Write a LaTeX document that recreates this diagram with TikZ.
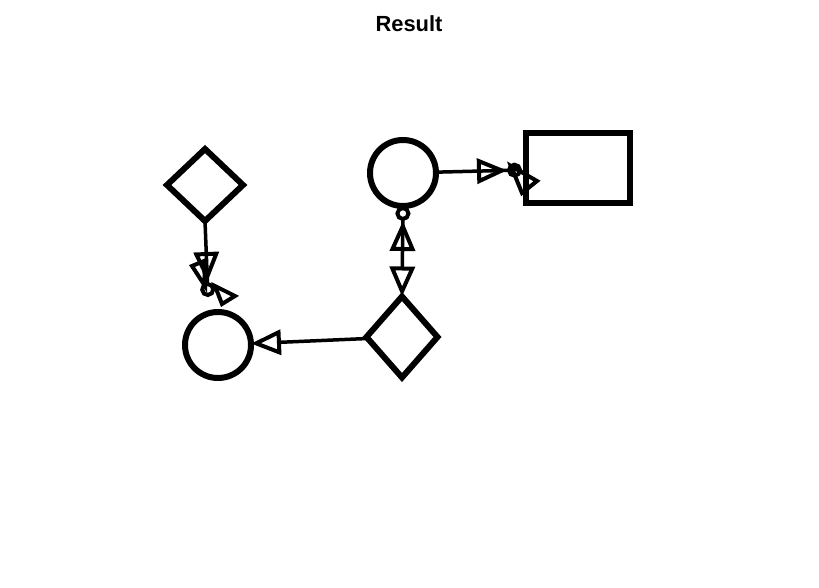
\documentclass[tikz,border=0pt]{standalone}
\usepackage{fontspec}
\setmainfont{Liberation Sans}
\usetikzlibrary{arrows.meta}
\usetikzlibrary{shapes.geometric}

\tikzset{
  shp/.style={draw, line width=6bp, inner sep=0pt, outer sep=0pt},
  conn/.style={line width=3.5bp, line join=miter},
  otri/.tip={Triangle[open,length=30bp,width=25bp,line width=4bp]},
  odot/.tip={Circle[open,length=15bp,line width=4bp]},
}

\begin{document}
\begin{tikzpicture}[x=1bp,y=-1bp]
\useasboundingbox (0,0) rectangle (819,588);

\node[font=\bfseries\fontsize{22}{26}\selectfont] (title) at (409,24) {Result};

% shapes
\node[shp, diamond, minimum width=76bp, minimum height=72bp] (d1) at (205,185) {};
\node[shp, circle, minimum size=66bp] (c1) at (218,345) {};
\node[shp, circle, minimum size=66bp] (c2) at (403,173) {};
\node[shp, diamond, minimum width=71bp, minimum height=81bp] (d2) at (402,337) {};
\node[shp, rectangle, minimum width=104bp, minimum height=70bp] (r1) at (577.5,168) {};

\coordinate (e1) at (208,297);
\coordinate (e3) at (522,170);

% connectors
\draw[conn, -{otri[] odot[]}] (d1.south) -- (e1);
\draw[conn, {otri[]}-{otri[] odot[]}] (d2.north) -- (c2.south);
\draw[conn, -{otri[] odot[]}] (c2) -- (e3);
\draw[conn, -{otri[]}] (d2) -- (c1);

% skewed heads
\draw[conn, line width=4bp] (192,266) -- (204,261) -- (205,286) -- cycle;
\draw[conn, line width=4bp] (215,286) -- (235,296) -- (222,304) -- cycle;
\draw[conn, line width=4bp] (511,166) -- (537,181) -- (522,193) -- cycle;
\end{tikzpicture}
\end{document}
